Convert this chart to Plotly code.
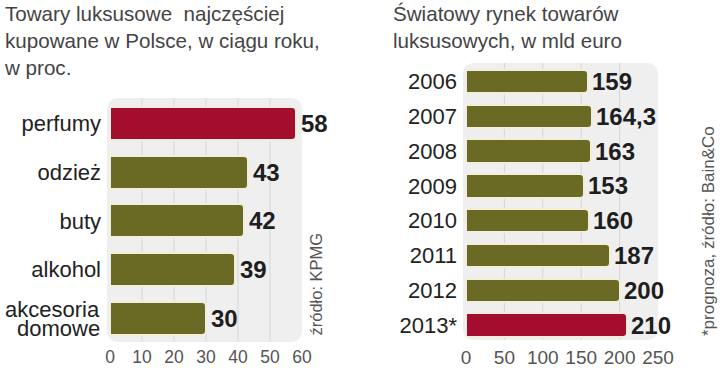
import plotly.graph_objects as go

# ---- data ----
left_categories = ["perfumy", "odzież", "buty", "alkohol", "akcesoria<br>domowe"]
left_values = [58, 43, 42, 39, 30]
left_highlight = [True, False, False, False, False]
left_ticks = [0, 10, 20, 30, 40, 50, 60]
left_title = "Towary luksusowe  najczęściej<br>kupowane w Polsce, w ciągu roku,<br>w proc."
left_source = "źródło: KPMG"

right_categories = ["2006", "2007", "2008", "2009", "2010", "2011", "2012", "2013*"]
right_values = [159, 164.3, 163, 153, 160, 187, 200, 210]
right_highlight = [False, False, False, False, False, False, False, True]
right_ticks = [0, 50, 100, 150, 200, 250]
right_title = "Światowy rynek towarów<br>luksusowych, w mld euro"
right_source = "*prognoza, źródło: Bain&Co"

# ---- styles ----
W, H = 720, 368
OLIVE = "#6b6a25"
RED = "#a30d2e"
BORDER = "#f1eedc"
PANEL = "#efefef"
GRID = "#d6d6d6"
REG = "Liberation Sans, Arial, sans-serif"
BOLDF = "Liberation Sans, Arial, sans-serif"
CATFONT = dict(family=REG, size=22, color="#222222")


def px_x(p):
    return p / W


def px_y(p):
    return 1 - p / H


def fmt(v):
    return ("%g" % v).replace(".", ",")


fig = go.Figure()

fig.add_trace(go.Bar(
    x=left_values, y=left_categories, orientation="h",
    marker=dict(color=[RED if h else OLIVE for h in left_highlight],
                line=dict(color=BORDER, width=2), cornerradius=4),
    width=0.68, xaxis="x", yaxis="y", hoverinfo="skip", showlegend=False,
))
fig.add_trace(go.Bar(
    x=right_values, y=right_categories, orientation="h",
    marker=dict(color=[RED if h else OLIVE for h in right_highlight],
                line=dict(color=BORDER, width=2), cornerradius=4),
    width=0.67, xaxis="x2", yaxis="y2", hoverinfo="skip", showlegend=False,
))


def rounded(x0, y0, x1, y1, r):
    X0, X1 = px_x(x0), px_x(x1)
    Y0, Y1 = px_y(y0), px_y(y1)  # Y0 top, Y1 bottom
    rx, ry = r / W, r / H
    return (f"M{X0+rx},{Y0} L{X1-rx},{Y0} Q{X1},{Y0} {X1},{Y0-ry} "
            f"L{X1},{Y1+ry} Q{X1},{Y1} {X1-rx},{Y1} "
            f"L{X0+rx},{Y1} Q{X0},{Y1} {X0},{Y1+ry} "
            f"L{X0},{Y0-ry} Q{X0},{Y0} {X0+rx},{Y0} Z")


shapes = [
    dict(type="path", path=rounded(107, 98, 302, 342, 12), xref="paper", yref="paper",
         fillcolor=PANEL, line=dict(width=0), layer="below"),
    dict(type="path", path=rounded(463, 63, 658, 340, 12), xref="paper", yref="paper",
         fillcolor=PANEL, line=dict(width=0), layer="below"),
]
for t in left_ticks[1:-1]:
    shapes.append(dict(type="line", xref="x", yref="y domain", x0=t, x1=t, y0=0, y1=1,
                       line=dict(color=GRID, width=1), layer="below"))
for t in right_ticks[1:-1]:
    shapes.append(dict(type="line", xref="x2", yref="y2 domain", x0=t, x1=t, y0=0, y1=1,
                       line=dict(color=GRID, width=1), layer="below"))

VALFONT = dict(family=BOLDF, size=24, color="#1e1e1e", weight="bold")
annotations = []
for i, v in enumerate(left_values):
    annotations.append(dict(x=v, y=i, xref="x", yref="y", text=fmt(v), showarrow=False,
                            xanchor="left", yanchor="middle", xshift=3, font=VALFONT))
for i, v in enumerate(right_values):
    annotations.append(dict(x=v, y=i, xref="x2", yref="y2", text=fmt(v), showarrow=False,
                            xanchor="left", yanchor="middle", xshift=2, font=VALFONT))

# single-line category labels go on the axis; multi-line ones get tight line spacing
left_tickvals = [c for c in left_categories if "<br>" not in c]
LINE_STEP = 19
for i, c in enumerate(left_categories):
    if "<br>" in c:
        parts = c.split("<br>")
        n = len(parts)
        for k, part in enumerate(parts):
            annotations.append(dict(x=0, y=i, xref="x", yref="y", text=part, showarrow=False,
                                    xanchor="right", yanchor="middle", xshift=-8,
                                    yshift=((n - 1) / 2 - k) * LINE_STEP - 1,
                                    font=CATFONT))

annotations += [
    dict(x=px_x(2), y=1, xref="paper", yref="paper", text=left_title, showarrow=False,
         xanchor="left", yanchor="top", align="left",
         font=dict(family=REG, size=20.6, color="#444444")),
    dict(x=px_x(391), y=1, xref="paper", yref="paper", text=right_title, showarrow=False,
         xanchor="left", yanchor="top", align="left",
         font=dict(family=REG, size=20.6, color="#444444")),
    dict(x=px_x(315), y=px_y(338), xref="paper", yref="paper", text=left_source,
         showarrow=False, textangle=-90, xanchor="center", yanchor="bottom",
         font=dict(family=REG, size=16.5, color="#555555")),
    dict(x=px_x(708), y=px_y(338), xref="paper", yref="paper", text=right_source,
         showarrow=False, textangle=-90, xanchor="center", yanchor="bottom",
         font=dict(family=REG, size=17, color="#555555")),
]

fig.update_layout(
    width=W, height=H,
    margin=dict(l=0, r=0, t=0, b=0, autoexpand=False),
    paper_bgcolor="white", plot_bgcolor="rgba(0,0,0,0)",
    bargap=0,
    shapes=shapes, annotations=annotations,
    xaxis=dict(domain=[px_x(110), px_x(302)], range=[0, 60], tickvals=left_ticks,
               showgrid=False, zeroline=False, showline=False, ticks="", automargin=False,
               ticklabelstandoff=2,
               tickfont=dict(family=REG, size=17.5, color="#555555"), anchor="y"),
    yaxis=dict(domain=[px_y(342), px_y(98)], range=[4.49, -0.525],
               type="category", categoryorder="array", categoryarray=left_categories,
               tickmode="array", tickvals=left_tickvals, ticktext=left_tickvals,
               showgrid=False, zeroline=False, showline=False, ticks="", automargin=False,
               ticklabelstandoff=8, tickfont=CATFONT, anchor="x"),
    xaxis2=dict(domain=[px_x(466), px_x(658)], range=[0, 250], tickvals=right_ticks,
                showgrid=False, zeroline=False, showline=False, ticks="", automargin=False,
                ticklabelstandoff=4,
                tickfont=dict(family=REG, size=19, color="#555555"), anchor="y2"),
    yaxis2=dict(domain=[px_y(340), px_y(63)], range=[7.43, -0.53],
                type="category", categoryorder="array", categoryarray=right_categories,
                showgrid=False, zeroline=False, showline=False, ticks="", automargin=False,
                ticklabelstandoff=8, tickfont=CATFONT, anchor="x2"),
)

fig.write_html("out.html", config={"displayModeBar": False},
               post_script="document.body.style.margin='0px';")
